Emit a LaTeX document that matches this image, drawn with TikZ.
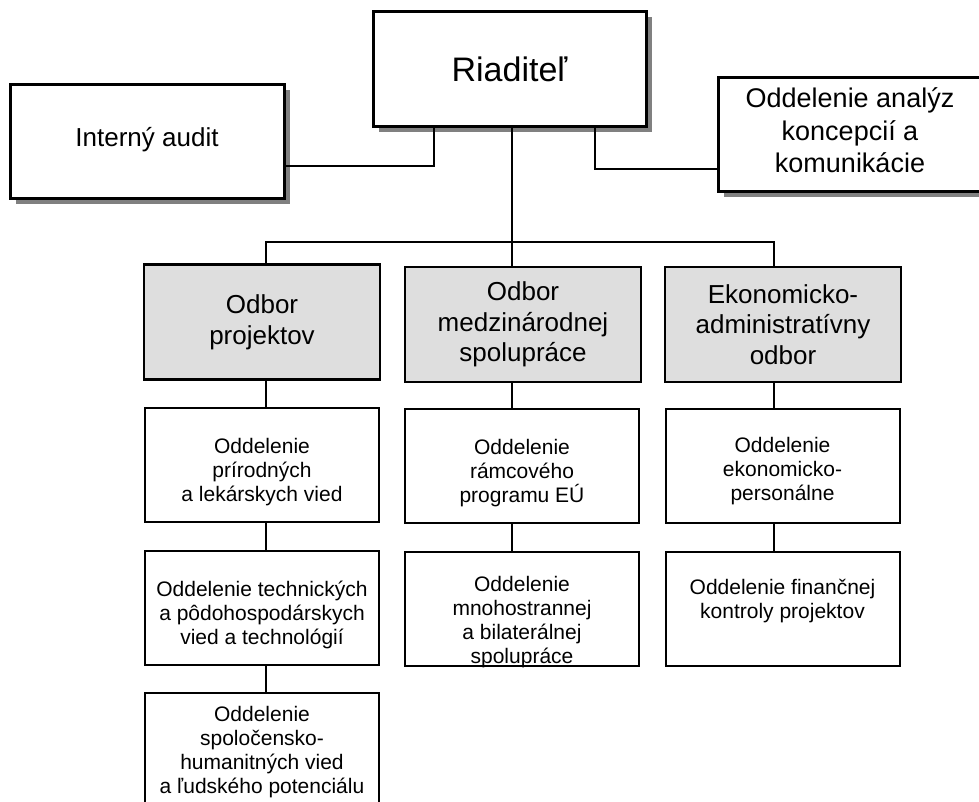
\documentclass[tikz,border=0pt]{standalone}
\usepackage{fontspec}
\setmainfont{Liberation Sans}
\usetikzlibrary{positioning,shadows}

\begin{document}
\begin{tikzpicture}[x=0.5pt,y=-0.5pt,
    headbox/.style={draw,line width=1.5pt,fill=white,inner sep=0pt,align=center,
      drop shadow={shadow xshift=2.75pt,shadow yshift=-2.75pt,fill=black!50,opacity=1}},
    odbor/.style={draw,line width=1.4pt,fill=black!13,inner sep=0pt,align=center,
      minimum width=118pt,minimum height=57.5pt,font=\fontsize{13}{15.3}\selectfont},
    oddel/.style={draw,line width=1pt,fill=white,minimum width=117pt,minimum height=57pt},
    txt/.style={inner sep=0pt,align=center,font=\fontsize{10.5}{12}\selectfont},
    conn/.style={line width=0.9pt}]
    \path[use as bounding box,clip] (0,0) rectangle (979,802);
    \node[headbox,minimum width=136.5pt,minimum height=57.5pt,font=\fontsize{17}{20}\selectfont] (n0) at (509.5,69.5) {Riaditeľ};
    \node[headbox,minimum width=137pt,minimum height=57pt,font=\fontsize{13}{16}\selectfont,text depth=5pt] (n1) at (147,142) {Interný audit};
    \node[headbox,minimum width=132pt,minimum height=57pt,font=\fontsize{13.5}{16.25}\selectfont,text depth=4.5pt] (n2) at (850,135) {Oddelenie analýz\\koncepcií a\\komunikácie};
    \node[odbor] (n3) at (262,322) {Odbor\\projektov};
    \node[odbor] (n4) at (523,324.5) {Odbor\\medzinárodnej\\spolupráce};
    \node[odbor] (n5) at (783,324.5) {Ekonomicko-\\administratívny\\odbor};
    \node[oddel] (n6) at (262,464.5) {};
    \node[oddel] (n7) at (262,607.5) {};
    \node[oddel,minimum height=60pt] (n8) at (262,753) {};
    \node[oddel] (n9) at (522,466) {};
    \node[oddel] (n10) at (522,609) {};
    \node[oddel] (n11) at (782.5,466) {};
    \node[oddel] (n12) at (782.5,609) {};
    % texts of the departments
    \node[txt,below=15.5pt of n6.north] (t6) {Oddelenie\\prírodných\\a lekárskych vied};
    \node[txt,below=15.5pt of n7.north] (t7) {Oddelenie technických\\a pôdohospodárskych\\vied a technológií};
    \node[txt,below=7pt of n8.north] (t8) {Oddelenie\\spoločensko-\\humanitných vied\\a ľudského potenciálu};
    \node[txt,below=15.5pt of n9.north] (t9) {Oddelenie\\rámcového\\programu EÚ};
    \begin{scope}
        \clip (n10.north west) rectangle (n10.south east);
        \node[txt,below=12.5pt of n10.north] (t10) {Oddelenie\\mnohostrannej\\a bilaterálnej\\spolupráce};
    \end{scope}
    \node[txt,below=14.5pt of n11.north] (t11) {Oddelenie\\ekonomicko-\\personálne};
    \node[txt,below=14pt of n12.north] (t12) {Oddelenie finančnej\\kontroly projektov};
    % connectors
    \coordinate (j1) at (434,166);
    \coordinate (j2) at (595,169);
    \coordinate (j3) at (266,242);
    \coordinate (j4) at (512,242);
    \coordinate (j5) at (774,242);
    \draw[conn] (n1.east |- j1) -| (n0.south -| j1);
    \draw[conn] (n2.west |- j2) -| (n0.south -| j2);
    \draw[conn] (n0.south -| j4) -- (n4.north -| j4);
    \draw[conn] (n3.north -| j3) |- (j5) -- (n5.north -| j5);
    \draw[conn] (n3.south -| j3) -- (n6.north -| j3) (n6.south -| j3) -- (n7.north -| j3) (n7.south -| j3) -- (n8.north -| j3);
    \draw[conn] (n4.south -| j4) -- (n9.north -| j4) (n9.south -| j4) -- (n10.north -| j4);
    \draw[conn] (n5.south -| j5) -- (n11.north -| j5) (n11.south -| j5) -- (n12.north -| j5);
\end{tikzpicture}
\end{document}
